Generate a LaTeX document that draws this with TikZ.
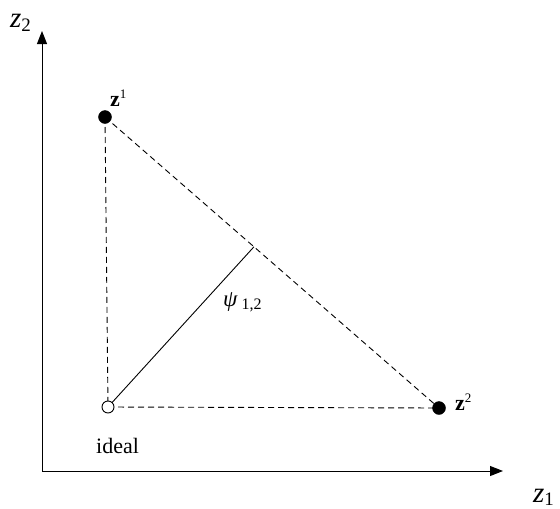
\documentclass[tikz,border=0pt]{standalone}
\usepackage{fontspec}
\setmainfont{Liberation Serif}
\usetikzlibrary{arrows.meta,calc}
\begin{document}
\begin{tikzpicture}[x=1pt,y=-1pt,
    eixo/.style={-{Triangle[length=13pt,width=10pt]},line width=1pt},
    cheio/.style={circle,fill=black,draw,inner sep=0pt,minimum size=13pt},
    vazio/.style={circle,fill=white,draw,line width=0.9pt,inner sep=0pt,minimum size=12pt},
    tracejado/.style={dashed,dash pattern=on 6pt off 4pt,line width=0.9pt},
    rotulo/.style={inner sep=0pt,anchor=base west,font=\fontsize{22}{24}\selectfont},
    eixorot/.style={inner sep=0pt,anchor=base west,font=\fontsize{29}{31}\selectfont}]
    \useasboundingbox (0,0) rectangle (560,509);

    % Eixos
    \coordinate (O) at (42,471);
    \coordinate (X) at (503,471);
    \coordinate (Y) at (42,31);
    \draw[eixo] (O) -- (X);
    \draw[eixo] (O) -- (Y);
    \node[eixorot] (lz2) at (10,27) {\textit{z}\textsubscript{\fontsize{19}{20}\selectfont 2}};
    \node[eixorot] (lz1) at (533,502) {\textit{z}\textsubscript{\fontsize{19}{20}\selectfont 1}};

    % Pontos
    \coordinate (z1) at (105,117);
    \coordinate (z2) at (439,408);
    \coordinate (id) at (108,407);
    \coordinate (pe) at ($(z1)!0.446!(z2)$);

    % Linhas tracejadas
    \draw[tracejado] (z1) -- (id);
    \draw[tracejado] (id) -- (z2);
    \draw[tracejado] (z1) -- (z2);
    % Distancia psi
    \draw[line width=0.9pt] (id) -- (pe);

    \node[cheio] (p1) at (z1) {};
    \node[cheio] (p2) at (z2) {};
    \node[vazio] (pid) at (id) {};

    \node[rotulo] (l1) at (110,106) {\textbf{z}\textsuperscript{\fontsize{13}{14}\selectfont 1}};
    \node[rotulo] (l2) at (455,410) {\textbf{z}\textsuperscript{\fontsize{13}{14}\selectfont 2}};
    \node[rotulo] (lid) at (96,453) {ideal};
    \node[rotulo,font=\fontsize{23}{25}\selectfont] (lpsi) at (223,306) {\textit{ψ}\,\textsubscript{\fontsize{16}{17}\selectfont 1,2}};
\end{tikzpicture}
\end{document}
